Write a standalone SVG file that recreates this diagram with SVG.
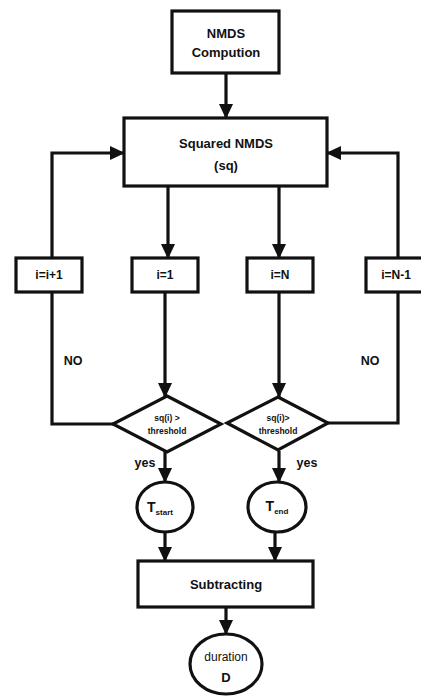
<svg xmlns="http://www.w3.org/2000/svg" width="421" height="696" viewBox="0 0 421 696">
<defs>
<marker id="ah" markerWidth="16" markerHeight="16" refX="14" refY="7" orient="auto" markerUnits="userSpaceOnUse">
<path d="M0,0 L15,7 L0,14 Z" fill="#111"/>
</marker>
<style>
.b{fill:#fff;stroke:#111;stroke-width:3.2}
.l{fill:none;stroke:#111;stroke-width:3.2}
text{font-family:"Liberation Sans",Arial,sans-serif;font-weight:bold;fill:#111;text-anchor:middle}
.t{font-size:13px}
.s{font-size:12px}
.n{font-size:12.5px}
.d{font-size:8.5px}
</style>
</defs>
<rect width="421" height="696" fill="#fff"/>
<g id="connectors">
<line class="l" x1="226" y1="73" x2="226" y2="118" marker-end="url(#ah)"/>
<polyline class="l" points="115,424 52,424 52,153 124,153" marker-end="url(#ah)"/>
<polyline class="l" points="328,423 398,423 398,153 327,153" marker-end="url(#ah)"/>
<line class="l" x1="168" y1="186" x2="168" y2="258" marker-end="url(#ah)"/>
<line class="l" x1="279" y1="186" x2="279" y2="258" marker-end="url(#ah)"/>
<line class="l" x1="165" y1="292" x2="165" y2="397" marker-end="url(#ah)"/>
<line class="l" x1="279" y1="292" x2="279" y2="397" marker-end="url(#ah)"/>
<line class="l" x1="165" y1="452" x2="165" y2="482" marker-end="url(#ah)"/>
<line class="l" x1="279" y1="451" x2="279" y2="482" marker-end="url(#ah)"/>
<line class="l" x1="165" y1="532" x2="165" y2="561" marker-end="url(#ah)"/>
<line class="l" x1="275" y1="532" x2="275" y2="561" marker-end="url(#ah)"/>
<line class="l" x1="226" y1="607" x2="226" y2="634" marker-end="url(#ah)"/>
<text class="n" x="73" y="365">NO</text>
<text class="n" x="370" y="365">NO</text>
<text class="n" x="145" y="467">yes</text>
<text class="n" x="307" y="467">yes</text>
</g>
<g id="nmds">
<rect class="b" x="172" y="11" width="107" height="62"/>
<text class="t" x="226" y="38">NMDS</text>
<text class="t" x="226" y="57">Compution</text>
</g>
<g id="squared">
<rect class="b" x="124" y="118" width="203" height="68"/>
<text class="t" x="226" y="148">Squared NMDS</text>
<text class="t" x="226" y="170">(sq)</text>
</g>
<g id="ii1">
<rect class="b" x="16" y="258" width="66" height="34"/>
<text class="s" x="49" y="279">i=i+1</text>
</g>
<g id="i1">
<rect class="b" x="132" y="258" width="66" height="34"/>
<text class="s" x="165" y="279">i=1</text>
</g>
<g id="iN">
<rect class="b" x="247" y="258" width="66" height="34"/>
<text class="s" x="280" y="279">i=N</text>
</g>
<g id="iN1">
<rect class="b" x="366" y="258" width="66" height="34"/>
<text class="s" x="396" y="279">i=N-1</text>
</g>
<g id="dec1">
<polygon class="b" points="167,396 221,424 167,452 113,424"/>
<text class="d" x="167" y="421">sq(i) &gt;</text>
<text class="d" x="167" y="434">threshold</text>
</g>
<g id="dec2">
<polygon class="b" points="278,397 328,423 278,450 227,423"/>
<text class="d" x="278" y="421">sq(i)&gt;</text>
<text class="d" x="278" y="434">threshold</text>
</g>
<g id="tstart">
<ellipse class="b" cx="165" cy="507" rx="28" ry="25"/>
<text x="160" y="512" style="font-size:14px">T<tspan dy="3" style="font-size:8px">start</tspan></text>
</g>
<g id="tend">
<ellipse class="b" cx="277" cy="507" rx="29" ry="25"/>
<text x="277" y="511" style="font-size:14px">T<tspan dy="3" style="font-size:8px">end</tspan></text>
</g>
<g id="subtract">
<rect class="b" x="138" y="561" width="175" height="46"/>
<text class="t" x="226" y="589">Subtracting</text>
</g>
<g id="duration">
<ellipse class="b" cx="226" cy="664" rx="36" ry="30"/>
<text x="226" y="661" style="font-size:12px;font-weight:normal">duration</text>
<text x="226" y="682" style="font-size:13px">D</text>
</g>
</svg>
